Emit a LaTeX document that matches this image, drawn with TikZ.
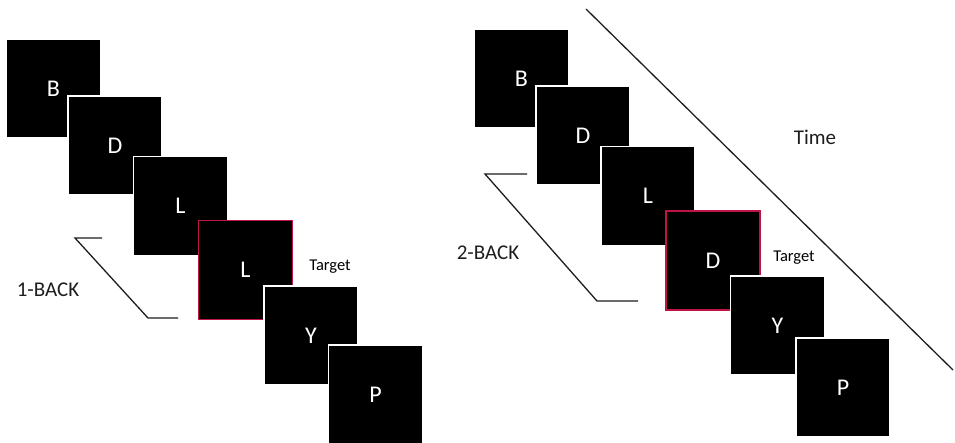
\documentclass[tikz,border=0pt]{standalone}
\usepackage{fontspec}
\setmainfont{Carlito}
\definecolor{targetred}{RGB}{190,20,70}
\definecolor{inkgray}{RGB}{30,30,30}
\tikzset{
  stim/.style={rectangle, fill=black, draw=white, line width=1.5pt,
    minimum width=94pt, minimum height=99pt, inner sep=0pt,
    text=white, font=\fontsize{24}{26}\selectfont},
  match/.style={stim, draw=targetred},
  lbl/.style={text=inkgray, inner sep=0pt, font=\fontsize{21}{24}\selectfont},
  small/.style={text=black, inner sep=0pt, font=\fontsize{16.5}{19}\selectfont},
  guide/.style={draw=inkgray, line width=1.3pt}
}
\begin{document}
\begin{tikzpicture}[x=1pt, y=-1pt]
  \useasboundingbox[fill=white] (0,0) rectangle (955,442);

  % 1-back sequence
  \node[stim]  (lb) at (53.5,88.5)  {B};
  \node[stim]  (ld) at (115,145.5)  {D};
  \node[stim]  (ll) at (180.5,206)  {L};
  \node[match] (lt) at (245.5,270)  {L};
  \node[stim]  (ly) at (311,335.5)  {Y};
  \node[stim]  (lp) at (375.5,394.5) {P};
  \node[small] (ltarget) at (330,267) {Target};
  \node[lbl]   (oneback) at (48,290) {1-BACK};

  \coordinate (la) at (102,238);
  \coordinate (lb1) at (75,238);
  \coordinate (lb2) at (148,318);
  \coordinate (lb3) at (178,318);
  \draw[guide] (la) -- (lb1) -- (lb2) -- (lb3);

  % 2-back sequence
  \node[stim]  (rb) at (521.5,78.5) {B};
  \node[stim]  (rd) at (583,135.5)  {D};
  \node[stim]  (rl) at (648,196)    {L};
  \node[match] (rt) at (713,260.5)  {D};
  \node[stim]  (ry) at (777.5,325.5) {Y};
  \node[stim]  (rp) at (843,387.5)  {P};
  \node[small] (rtarget) at (794,258) {Target};
  \node[lbl]   (twoback) at (488,253) {2-BACK};

  \coordinate (ra) at (527,174);
  \coordinate (rb1) at (485,174);
  \coordinate (rb2) at (597,301);
  \coordinate (rb3) at (638,301);
  \draw[guide] (ra) -- (rb1) -- (rb2) -- (rb3);

  % time axis
  \coordinate (tstart) at (586,9);
  \coordinate (tend) at (953,370);
  \draw[guide] (tstart) -- (tend);
  \node[lbl] (time) at (815,137) {Time};
\end{tikzpicture}
\end{document}
